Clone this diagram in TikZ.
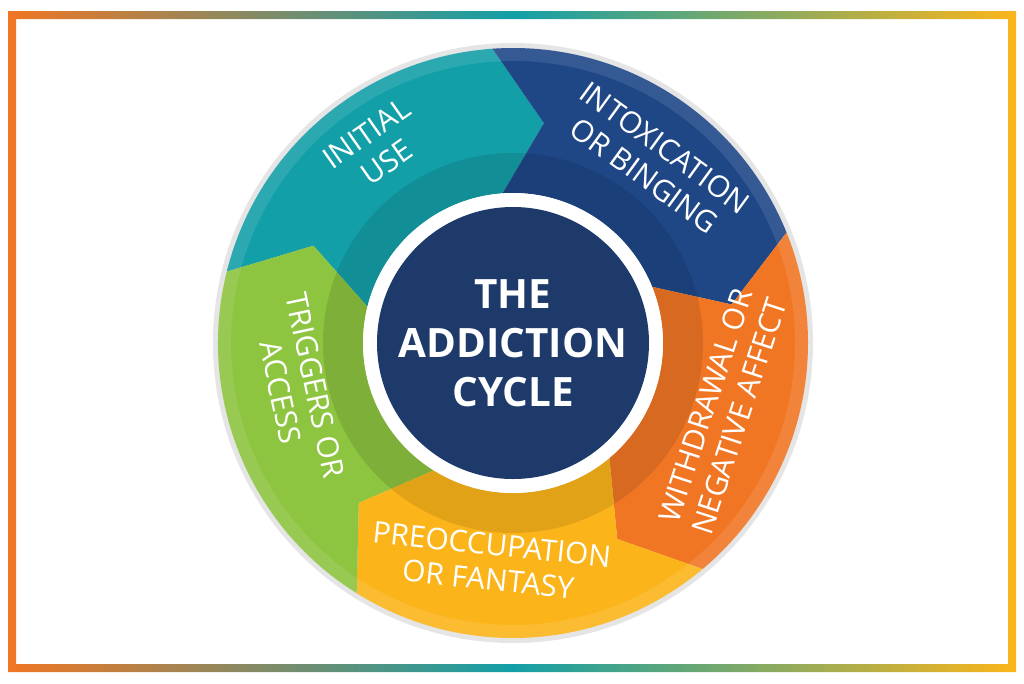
\documentclass[tikz,border=0pt]{standalone}
\usepackage{fontspec}
\setmainfont{Open Sans}
\definecolor{teal1}{HTML}{139FA8}
\definecolor{navy1}{HTML}{1F4786}
\definecolor{orange1}{HTML}{F07624}
\definecolor{yellow1}{HTML}{FBB51B}
\definecolor{green1}{HTML}{8DC540}
\definecolor{corecol}{HTML}{1D3A6A}
\newcommand{\segment}[2]{%
\fill [#1] (#2:2.95) arc [radius=2.95, start angle=#2, end angle=#2-72]
  -- (#2-84:2.22) -- (#2-72:1.5) arc [radius=1.5, start angle=#2-72, end angle=#2]
  -- (#2-12:2.22) -- cycle;}
\tikzset{lbl/.style={white, align=center, font=\fontsize{8.5}{10}\selectfont}}
\begin{document}
\begin{tikzpicture}
\useasboundingbox (0,0) rectangle (10.24,6.83);
\shade [even odd rule, left color=orange1, right color=yellow1, middle color=teal1]
  (0.08,0.11) rectangle (10.16,6.72) (0.16,0.19) rectangle (10.08,6.64);
\begin{scope}[shift={(5.13,3.40)}]
\fill [gray!20] (0,0) circle (3.0);
\segment{teal1}{166}
\segment{navy1}{94}
\segment{orange1}{22}
\segment{yellow1}{-50}
\segment{green1}{-122}
% lighter rim and inner shade
\fill [white, opacity=.1, even odd rule] (0,0) circle (2.95) (0,0) circle (2.82);
\fill [black, opacity=.1, even odd rule] (0,0) circle (1.9) (0,0) circle (1.5);
\fill [white] (0,0) circle (1.5);
\fill [corecol] (0,0) circle (1.36);
\node (title) [white, align=center, font=\bfseries\fontsize{11.5}{14}\selectfont]
  at (0,0) {THE\\ADDICTION\\CYCLE};
\node (use) [lbl, rotate=35] at (125:2.38) {INITIAL\\USE};
\node (binge) [lbl, rotate=-36] at (52:2.3) {INTOXICATION\\OR BINGING};
\node (withdraw) [lbl, rotate=72] at (-18:2.2) {WITHDRAWAL OR\\NEGATIVE AFFECT};
\node (preocc) [lbl, rotate=-6] at (-96:2.2) {PREOCCUPATION\\OR FANTASY};
\node (trigger) [lbl, rotate=-78] at (-168:2.2) {TRIGGERS OR\\ACCESS};
\end{scope}
\end{tikzpicture}
\end{document}
